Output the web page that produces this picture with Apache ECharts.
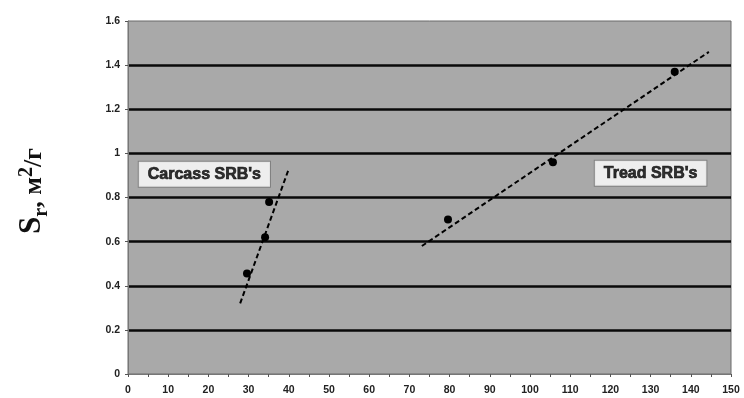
<!DOCTYPE html>
<html>
<head>
<meta charset="utf-8">
<script src="https://cdn.jsdelivr.net/npm/echarts@6/dist/echarts.min.js"></script>
<style>html,body{margin:0;padding:0;background:#fff}#c{width:744px;height:398px}</style>
</head>
<body>
<div id="c"></div>
<script>
// Data
const carcassPoints = [[29.6, 0.455], [34.1, 0.62], [35.1, 0.78]];
const carcassTrend = [[27.9, 0.32], [40, 0.93]];
const treadPoints = [[79.6, 0.70], [105.7, 0.96], [136, 1.37]];
const treadTrend = [[73.1, 0.58], [144.5, 1.46]];
const annotations = [[19, 0.905, "Carcass SRB's"], [130, 0.91, "Tread SRB's"]];
const xRange = [0, 150];
const yRange = [0, 1.6];

const chart = echarts.init(document.getElementById('c'));
const tickFont = {color: '#222', fontSize: 10.5, fontFamily: 'Liberation Sans, Arial', fontWeight: 'bold'};
const serif = 'Liberation Serif, Times New Roman, serif';
chart.setOption({
  animation: false,
  grid: {left: 128, top: 21, right: 13, bottom: 24, show: true, backgroundColor: '#a9a9a9', borderColor: '#6a6a6a', borderWidth: 1},
  xAxis: {
    type: 'value', min: xRange[0], max: xRange[1], interval: 10,
    axisLine: {show: true, lineStyle: {color: '#777', width: 1}},
    axisTick: {show: true, length: 3, lineStyle: {color: '#555'}},
    minorTick: {show: true, splitNumber: 2, length: 3, lineStyle: {color: '#555'}},
    axisLabel: Object.assign({margin: 11}, tickFont),
    splitLine: {show: false}
  },
  yAxis: {
    type: 'value', min: yRange[0], max: yRange[1], interval: 0.2,
    axisLine: {show: true, lineStyle: {color: '#777', width: 1}},
    axisTick: {show: true, length: 3, lineStyle: {color: '#555'}},
    axisLabel: Object.assign({margin: 8}, tickFont),
    splitLine: {show: true, showMinLine: false, showMaxLine: false, lineStyle: {color: '#0a0a0a', width: 2.5}}
  },
  graphic: [{
    type: 'text', x: 32, y: 191, rotation: Math.PI / 2,
    style: {
      text: '{s|S}{r|r}{m|, м}{sup|2}{m|/г}',
      align: 'center', verticalAlign: 'middle',
      fill: '#111',
      rich: {
        s: {fontSize: 31, fontWeight: 'bold', fontFamily: serif, fill: '#111', verticalAlign: 'bottom'},
        r: {fontSize: 20, fontWeight: 'bold', fontFamily: serif, fill: '#111', verticalAlign: 'bottom', padding: [0, 0, -4, 0]},
        m: {fontSize: 26, fontWeight: 'bold', fontFamily: serif, fill: '#111', verticalAlign: 'bottom'},
        sup: {fontSize: 20, fontWeight: 'bold', fontFamily: serif, fill: '#111', verticalAlign: 'top'}
      }
    }
  }],
  series: [
    {type: 'line', data: carcassTrend, symbol: 'none', lineStyle: {color: '#000', width: 2, type: [5, 3]}, z: 3},
    {type: 'line', data: treadTrend, symbol: 'none', lineStyle: {color: '#000', width: 2, type: [5, 3]}, z: 3},
    {type: 'scatter', data: carcassPoints, symbolSize: 8, itemStyle: {color: '#000', opacity: 1}, z: 4},
    {type: 'scatter', data: treadPoints, symbolSize: 8, itemStyle: {color: '#000', opacity: 1}, z: 4},
    {type: 'scatter', data: annotations, symbolSize: 0, z: 5,
      label: {show: true, position: 'inside', formatter: p => p.data[2],
        backgroundColor: '#fff', borderColor: '#777', borderWidth: 1, padding: [5, 9, 4, 9],
        color: '#000', textBorderColor: '#000', textBorderWidth: 0.7,
        fontSize: 16, fontWeight: 'bold', fontFamily: 'Liberation Sans, Arial'}}
  ]
});
</script>
</body>
</html>
